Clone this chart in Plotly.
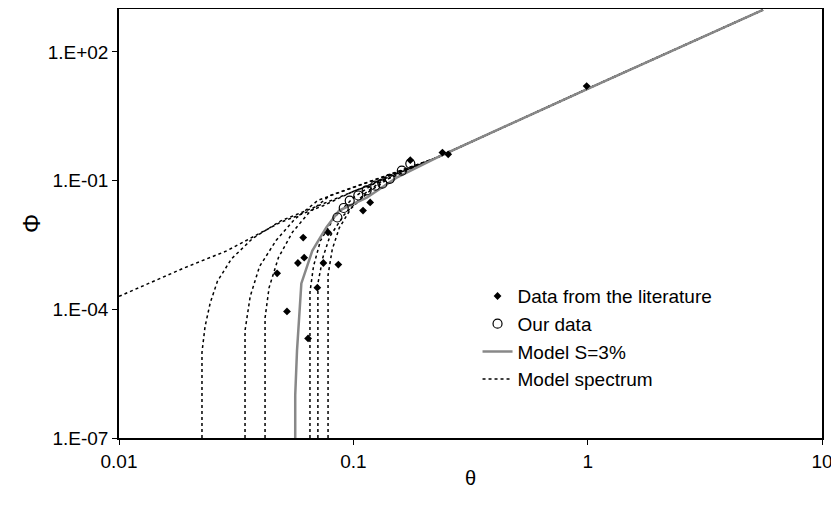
import plotly.graph_objects as go

# Data from the literature (filled diamonds)
lit_theta = [0.0611, 0.078, 0.0473, 0.058, 0.0617, 0.0745, 0.0863, 0.0702, 0.0521, 0.0641,
             0.110, 0.118, 0.175, 0.24, 0.254, 0.99]
lit_phi = [4.7e-3, 6.2e-3, 6.9e-4, 1.2e-3, 1.6e-3, 1.2e-3, 1.1e-3, 3.2e-4, 8.9e-5, 2.1e-5,
           0.020, 0.031, 0.30, 0.45, 0.41, 16]

# Our data (open circles)
our_theta = [0.0855, 0.091, 0.0965, 0.105, 0.114, 0.124, 0.133, 0.143, 0.161, 0.175]
our_phi = [0.0138, 0.023, 0.034, 0.045, 0.059, 0.076, 0.085, 0.11, 0.17, 0.25]

# Model S=3%
model_theta = [0.0565, 0.0565, 0.0575, 0.060, 0.0668, 0.0767, 0.087, 0.114, 0.153, 0.226, 1.0, 5.6]
model_phi = [1e-7, 1e-6, 1.1e-5, 4.0e-4, 2.3e-3, 8.1e-3, 0.020, 0.040, 0.117, 0.34, 13.8, 955]

# Model spectrum (dotted curves)
tail_theta = [0.226, 1.0, 5.6]
tail_phi = [0.34, 13.8, 955]
spectrum = [
    ([0.01, 0.0187, 0.0288, 0.0486, 0.0743, 0.1, 0.15], [2.0e-4, 8.9e-4, 2.3e-3, 0.0105, 0.026, 0.056, 0.126]),
    ([0.0226, 0.0226, 0.0233, 0.0245, 0.0263, 0.0302, 0.0372, 0.049], [1e-7, 1e-5, 4.0e-5, 1.4e-4, 4.5e-4, 1.5e-3, 4.5e-3, 0.0115]),
    ([0.0345, 0.0345, 0.0363, 0.0398, 0.0468, 0.0562, 0.0708], [1e-7, 3.2e-5, 2.0e-4, 1.0e-3, 4.0e-3, 0.0126, 0.035]),
    ([0.042, 0.042, 0.0437, 0.0479, 0.055, 0.0646, 0.0794], [1e-7, 6.3e-5, 3.2e-4, 1.6e-3, 6.3e-3, 0.0178, 0.045]),
    ([0.0653, 0.0653, 0.0676, 0.0724, 0.0832, 0.1, 0.132], [1e-7, 2.5e-4, 1.0e-3, 4.0e-3, 0.0141, 0.040, 0.112]),
    ([0.0706, 0.0706, 0.0741, 0.0794, 0.0912, 0.112, 0.141], [1e-7, 4.0e-4, 1.6e-3, 5.0e-3, 0.0158, 0.050, 0.126]),
    ([0.078, 0.078, 0.0813, 0.0871, 0.0977, 0.117, 0.151], [1e-7, 6.3e-4, 2.5e-3, 7.9e-3, 0.0224, 0.056, 0.141]),
]

fig = go.Figure()

for t, p in spectrum:
    fig.add_trace(go.Scatter(
        x=t + tail_theta, y=p + tail_phi, mode='lines',
        line=dict(color='black', width=1.5, dash='dot'),
        showlegend=False,
    ))

fig.add_trace(go.Scatter(
    x=model_theta, y=model_phi, mode='lines',
    line=dict(color='#888888', width=2.5), showlegend=False,
))

fig.add_trace(go.Scatter(
    x=lit_theta, y=lit_phi, mode='markers', name='Data from the literature',
    marker=dict(symbol='diamond', color='black', size=6),
))
fig.add_trace(go.Scatter(
    x=our_theta, y=our_phi, mode='markers', name='Our data',
    marker=dict(symbol='circle-open', color='black', size=9, line=dict(width=1.2)),
))
# legend-only entries for the lines
fig.add_trace(go.Scatter(
    x=[None], y=[None], mode='lines', name='Model S=3%',
    line=dict(color='#888888', width=2.5),
))
fig.add_trace(go.Scatter(
    x=[None], y=[None], mode='lines', name='Model spectrum',
    line=dict(color='black', width=1.5, dash='dot'),
))

axis_common = dict(
    type='log', showgrid=False, zeroline=False, showline=True, linecolor='black',
    linewidth=1.5, mirror=True, ticks='outside', ticklen=5, tickcolor='black',
    automargin=False,
    tickfont=dict(family='Liberation Sans, Arial', size=19, color='black'),
)

# page body has an 8px margin, so the figure is a bit smaller than the window
fig.update_layout(
    width=831, height=504,
    margin=dict(l=111, r=17, t=1, b=74),
    paper_bgcolor='white', plot_bgcolor='white',
    font=dict(family='Liberation Sans, Arial', color='black'),
    xaxis=dict(range=[-2, 1], tickvals=[0.01, 0.1, 1, 10], ticktext=['0.01', '0.1', '1', '10'],
               title=dict(text='θ', font=dict(size=20), standoff=0), **axis_common),
    yaxis=dict(range=[-7, 3], tickvals=[1e-7, 1e-4, 1e-1, 1e2],
               ticktext=['1.E-07', '1.E-04', '1.E-01', '1.E+02'],
               title=dict(text='Φ', font=dict(size=24), standoff=0), **axis_common),
    legend=dict(x=0.51, y=0.375, xanchor='left', yanchor='top', bgcolor='rgba(0,0,0,0)',
                font=dict(size=19), tracegroupgap=2),
)

fig.write_html("out.html")
